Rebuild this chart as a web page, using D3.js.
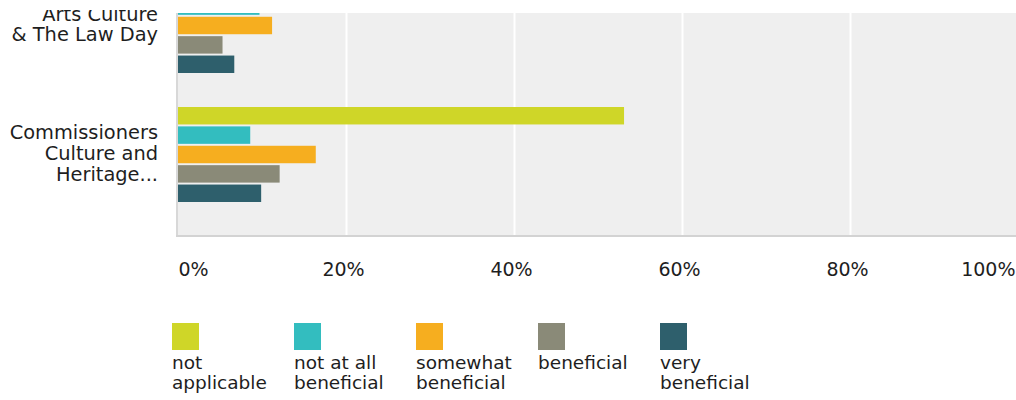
<!DOCTYPE html>
<html>
<head>
<meta charset="utf-8">
<script src="https://cdn.jsdelivr.net/npm/d3@7"></script>
<style>
  body { margin: 0; background: #fff; }
  text { font-family: "DejaVu Sans", sans-serif; fill: #1e1e1e; }
</style>
</head>
<body>
<svg id="chart" width="1016" height="400"></svg>
<script>
// Categories (line breaks mark where each label wraps)
const categories = ["Arts Culture\n& The Law Day", "Commissioners\nCulture and\nHeritage..."];

// Response series, in legend order
const seriesNames = ["not applicable", "not at all beneficial", "somewhat beneficial", "beneficial", "very beneficial"];
const seriesColors = ["#cfd628", "#33bdbf", "#f6ae1f", "#8a8a78", "#2e5f6c"];

// Share of respondents (%) per category
const notApplicable  = [67.1, 53.1];
const notAtAll       = [9.7, 8.6];
const somewhat       = [11.2, 16.4];
const beneficial     = [5.3, 12.1];
const veryBeneficial = [6.7, 9.9];

const tickValues = [0, 20, 40, 60, 80, 100];
const tickLabels = ["0%", "20%", "40%", "60%", "80%", "100%"];

const seriesValues = [notApplicable, notAtAll, somewhat, beneficial, veryBeneficial];
const rows = categories.map((c, i) => ({
  category: c,
  values: seriesNames.map((s, k) => ({ series: s, value: seriesValues[k][i] }))
}));

const svg = d3.select("#chart");

// Plot viewport (the bar list is scrolled inside it)
const view = { left: 178, right: 1018, top: 13, bottom: 236 };
const scrollTop = 35;

const x = d3.scaleLinear().domain([0, 100]).range([view.left, view.right]);

const y = d3.scaleBand()
  .domain(categories)
  .range([view.top - scrollTop, view.top - scrollTop + 224])
  .paddingInner(0.2636)
  .paddingOuter(0);

const yInner = d3.scaleBand()
  .domain(seriesNames)
  .range([0, y.bandwidth()])
  .paddingInner(0.1);

const color = d3.scaleOrdinal().domain(seriesNames).range(seriesColors);

const defs = svg.append("defs");
defs.append("clipPath").attr("id", "plot-clip")
  .append("rect")
  .attr("x", view.left - 2).attr("y", view.top)
  .attr("width", 1016 - view.left + 2).attr("height", view.bottom - view.top + 1);
defs.append("clipPath").attr("id", "label-clip")
  .append("rect")
  .attr("x", 0).attr("y", 10)
  .attr("width", view.left).attr("height", view.bottom);

// Background panel
svg.append("rect")
  .attr("x", view.left).attr("y", view.top)
  .attr("width", view.right - view.left).attr("height", view.bottom - view.top)
  .attr("fill", "#efefef");

// Vertical gridlines
const grid = svg.append("g")
  .attr("transform", `translate(0,${view.bottom})`)
  .call(d3.axisBottom(x).tickValues(tickValues.slice(1)).tickSize(-(view.bottom - view.top)).tickFormat(""));
grid.select(".domain").remove();
grid.selectAll(".tick line").attr("stroke", "#ffffff").attr("stroke-width", 2);

// Bars
const plot = svg.append("g").attr("clip-path", "url(#plot-clip)");
const groups = plot.selectAll("g.group")
  .data(rows)
  .join("g")
  .attr("class", "group")
  .attr("transform", d => `translate(0,${y(d.category)})`);

groups.selectAll("rect")
  .data(d => d.values)
  .join("rect")
  .attr("x", x(0))
  .attr("y", d => yInner(d.series))
  .attr("width", d => x(d.value) - x(0))
  .attr("height", yInner.bandwidth())
  .attr("fill", d => color(d.series));

// Axis lines
svg.append("line")
  .attr("x1", view.left - 1).attr("x2", view.left - 1)
  .attr("y1", view.top).attr("y2", view.bottom + 1)
  .attr("stroke", "#cfcfcf").attr("stroke-width", 1.6);
svg.append("line")
  .attr("x1", view.left - 2).attr("x2", 1016)
  .attr("y1", view.bottom).attr("y2", view.bottom)
  .attr("stroke", "#d3d3d3").attr("stroke-width", 2);

// Category labels
const labelG = svg.append("g").attr("clip-path", "url(#label-clip)");
const lineH = 20.6;
labelG.selectAll("text.cat")
  .data(categories)
  .join("text")
  .attr("class", "cat")
  .attr("text-anchor", "end")
  .style("font-size", "19.4px")
  .each(function (d) {
    const lines = d.split("\n");
    const cy = y(d) + y.bandwidth() / 2;
    const first = cy - (lines.length - 1) * lineH / 2 + 5.5;
    d3.select(this).selectAll("tspan")
      .data(lines)
      .join("tspan")
      .attr("x", 158)
      .attr("y", (l, i) => first + i * lineH)
      .text(l => l);
  });

// X tick labels
const xAxis = svg.append("g")
  .attr("transform", `translate(0,${view.bottom})`)
  .call(d3.axisBottom(x).tickValues(tickValues).tickSize(0).tickFormat((d, i) => tickLabels[i]));
xAxis.select(".domain").remove();
xAxis.selectAll(".tick text")
  .attr("y", 40).attr("dy", 0)
  .style("font-size", "19px")
  .style("font-family", "'DejaVu Sans', sans-serif")
  .attr("fill", "#1e1e1e")
  .attr("text-anchor", (d, i) => i === 0 ? "start" : (i === tickValues.length - 1 ? "end" : "middle"))
  .attr("dx", (d, i) => i === 0 ? 0 : -3);

// Legend
const legend = svg.append("g").attr("transform", "translate(172,323)");
const items = legend.selectAll("g.item")
  .data(seriesNames)
  .join("g")
  .attr("class", "item")
  .attr("transform", (d, i) => `translate(${i * 122},0)`);

items.append("rect")
  .attr("width", 27).attr("height", 27)
  .attr("fill", d => color(d));

items.append("text")
  .style("font-size", "18.5px")
  .each(function (d) {
    const t = d3.select(this);
    const words = d.split(" ");
    const maxW = 112;
    const lines = [];
    let cur = [];
    const probe = t.append("tspan");
    words.forEach(w => {
      const trial = cur.concat(w).join(" ");
      probe.text(trial);
      if (cur.length && probe.node().getComputedTextLength() > maxW) {
        lines.push(cur.join(" "));
        cur = [w];
      } else {
        cur.push(w);
      }
    });
    lines.push(cur.join(" "));
    probe.remove();
    t.selectAll("tspan")
      .data(lines)
      .join("tspan")
      .attr("x", 0)
      .attr("y", (l, i) => 45.7 + i * 20.4)
      .text(l => l);
  });
</script>
</body>
</html>
